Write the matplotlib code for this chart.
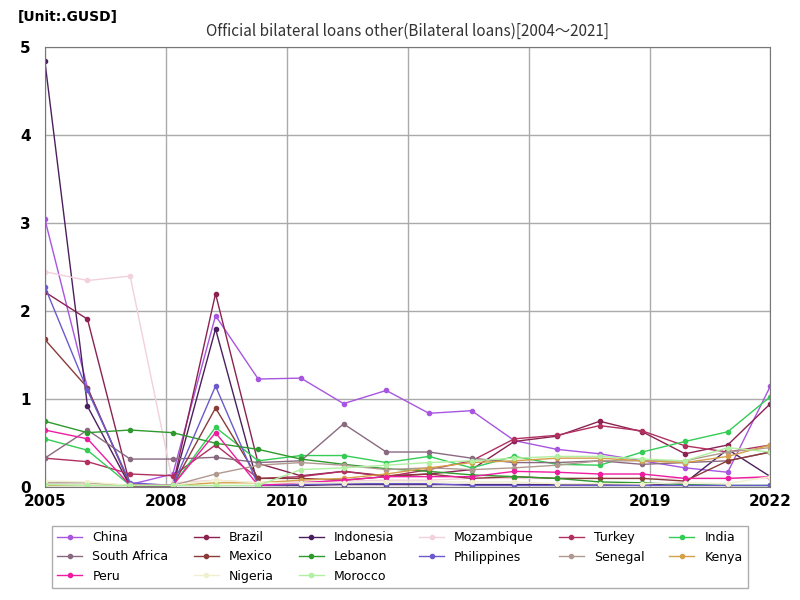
import matplotlib
matplotlib.use("Agg")
import matplotlib.pyplot as plt
import numpy as np

years = list(range(2004, 2022))
names = ["China","Brazil","Indonesia","Mozambique","Turkey","India","South Africa","Mexico","Lebanon","Philippines","Senegal","Kenya","Peru","Nigeria","Morocco"]
china = [3.05,1.13,0.03,0.15,1.95,1.23,1.24,0.95,1.10,0.84,0.87,0.53,0.43,0.38,0.30,0.22,0.17,1.15]
brazil = [2.22,1.91,0.02,0.02,2.20,0.27,0.13,0.18,0.13,0.15,0.20,0.52,0.58,0.75,0.63,0.38,0.48,0.95]
indonesia = [4.85,0.92,0.01,0.01,1.80,0.02,0.02,0.03,0.03,0.03,0.03,0.03,0.03,0.03,0.02,0.05,0.43,0.12]
mozambique = [2.45,2.35,2.40,0.05,0.08,0.05,0.06,0.07,0.08,0.08,0.10,0.10,0.10,0.10,0.10,0.10,0.10,0.10]
turkey = [0.33,0.29,0.15,0.13,0.48,0.10,0.12,0.18,0.12,0.20,0.30,0.55,0.59,0.70,0.64,0.47,0.40,0.48]
india = [0.55,0.42,0.02,0.02,0.68,0.30,0.36,0.36,0.28,0.35,0.22,0.35,0.26,0.25,0.40,0.52,0.63,1.03]
south_africa = [0.33,0.65,0.32,0.32,0.34,0.28,0.30,0.72,0.40,0.40,0.33,0.28,0.28,0.30,0.26,0.28,0.30,0.40]
mexico = [1.68,1.13,0.02,0.02,0.90,0.10,0.10,0.08,0.12,0.15,0.10,0.12,0.10,0.10,0.10,0.07,0.30,0.40]
lebanon = [0.75,0.62,0.65,0.62,0.50,0.43,0.32,0.26,0.21,0.18,0.14,0.12,0.10,0.06,0.05,0.03,0.02,0.02]
philippines = [2.28,1.10,0.05,0.02,1.15,0.02,0.03,0.04,0.04,0.04,0.02,0.02,0.02,0.02,0.02,0.02,0.02,0.02]
senegal = [0.05,0.05,0.02,0.02,0.15,0.25,0.28,0.25,0.20,0.22,0.20,0.22,0.25,0.30,0.30,0.30,0.40,0.45]
kenya = [0.02,0.02,0.02,0.02,0.05,0.05,0.08,0.10,0.15,0.22,0.28,0.30,0.33,0.33,0.30,0.28,0.35,0.48]
peru = [0.65,0.55,0.02,0.02,0.62,0.02,0.05,0.08,0.12,0.12,0.12,0.18,0.17,0.15,0.15,0.10,0.10,0.12]
nigeria = [0.07,0.06,0.02,0.02,0.08,0.05,0.05,0.05,0.06,0.06,0.06,0.06,0.04,0.04,0.04,0.05,0.04,0.12]
morocco = [0.03,0.02,0.02,0.02,0.02,0.02,0.20,0.22,0.25,0.28,0.30,0.33,0.35,0.35,0.32,0.30,0.45,0.40]
series = [china,brazil,indonesia,mozambique,turkey,india,south_africa,mexico,lebanon,philippines,senegal,kenya,peru,nigeria,morocco]
colors = ["#a855e0","#8b2252","#4b1f5e","#f2d0dc","#b03060","#33cc55","#8a6a80","#8b3a3a","#2e9a2e","#6a5acd","#b09a90","#d4a04a","#ee1ca0","#f0f0d0","#b0f0a0"]

fig = plt.figure(figsize=(8,6), dpi=100)
ax = fig.add_axes([0.056, 0.188, 0.907, 0.733])
handles = []
for n, s, c in zip(names, series, colors):
    h, = ax.plot(years, s, color=c, lw=1, marker='o', ms=3, label=n)
    handles.append(h)
ax.set_xlim(2004, 2021)
ax.set_ylim(0, 5)
tick_pos = [2004, 2006.84, 2009.67, 2012.51, 2015.35, 2018.18, 2021]
ax.set_xticks(tick_pos)
ax.set_xticklabels(["2005","2008","2010","2013","2016","2019","2022"])
ax.set_yticks([0,1,2,3,4,5])
ax.tick_params(labelsize=11, length=0)
ax.tick_params(axis='y', pad=10)
ax.tick_params(axis='x', pad=5)
for t in ax.get_yticklabels(): t.set_fontweight('bold')
for t in ax.get_xticklabels(): t.set_fontweight('bold')
ax.grid(True, color='#aaaaaa', lw=1)
for sp in ax.spines.values(): sp.set_color('#777777')
ax.set_title("Official bilateral loans other(Bilateral loans)[2004～2021]", fontsize=11, color='#333333', family=['Noto Sans CJK JP','DejaVu Sans'], pad=8)
fig.text(0.022, 0.965, "[Unit:.GUSD]", fontsize=10, fontweight='bold')

# reorder so legend reads row-wise with 6 columns
ncol = 6
nrow = int(np.ceil(len(handles) / ncol))
order = []
for col in range(ncol):
    for row in range(nrow):
        i = row * ncol + col
        if i < len(handles):
            order.append(i)
fig.legend([handles[i] for i in order], [names[i] for i in order], loc='lower center', bbox_to_anchor=(0.5, 0.01), ncol=ncol, fontsize=9, frameon=True, edgecolor='#999999', fancybox=False, handlelength=2)
fig.savefig("out.png")
